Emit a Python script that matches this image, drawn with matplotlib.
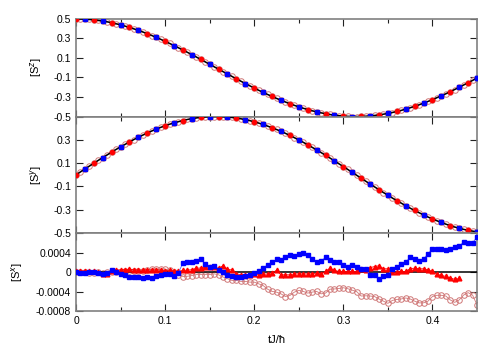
import numpy as np
import matplotlib
matplotlib.use('Agg')
import matplotlib.pyplot as plt

plt.rcParams['font.family'] = ['Liberation Sans', 'DejaVu Sans']
plt.rcParams['axes.unicode_minus'] = False

# time grid step used in the simulation
dt = 0.005

# <S^z> and <S^y> (every 0.005 in tJ/hbar)
sz = [0.500, 0.499, 0.498, 0.494, 0.490, 0.484, 0.478, 0.470, 0.461, 0.450,
      0.439, 0.426, 0.413, 0.398, 0.382, 0.366, 0.348, 0.330, 0.311, 0.291,
      0.270, 0.249, 0.227, 0.204, 0.181, 0.158, 0.134, 0.110, 0.085, 0.060,
      0.035, 0.010, -0.015, -0.040, -0.064, -0.089, -0.114, -0.138, -0.162, -0.185,
      -0.208, -0.231, -0.252, -0.274, -0.294, -0.314, -0.333, -0.351, -0.369, -0.385,
      -0.401, -0.415, -0.428, -0.441, -0.452, -0.462, -0.471, -0.479, -0.486, -0.491,
      -0.495, -0.498, -0.500, -0.500, -0.499, -0.497, -0.494, -0.489, -0.483, -0.476,
      -0.468, -0.459, -0.448, -0.437, -0.424, -0.410, -0.396, -0.380, -0.363, -0.345,
      -0.327, -0.307, -0.287, -0.267, -0.245, -0.223, -0.200, -0.177, -0.154, -0.130,
      -0.105]
sy = [0.000, 0.025, 0.050, 0.075, 0.099, 0.124, 0.148, 0.171, 0.195, 0.218,
      0.240, 0.261, 0.282, 0.303, 0.322, 0.341, 0.359, 0.376, 0.392, 0.407,
      0.421, 0.434, 0.446, 0.456, 0.466, 0.475, 0.482, 0.488, 0.493, 0.496,
      0.499, 0.500, 0.500, 0.498, 0.496, 0.492, 0.487, 0.481, 0.473, 0.465,
      0.455, 0.444, 0.432, 0.418, 0.404, 0.389, 0.373, 0.356, 0.338, 0.319,
      0.299, 0.279, 0.258, 0.236, 0.214, 0.191, 0.168, 0.144, 0.120, 0.095,
      0.071, 0.046, 0.021, -0.004, -0.029, -0.054, -0.079, -0.103, -0.128, -0.152,
      -0.175, -0.199, -0.221, -0.243, -0.265, -0.286, -0.306, -0.325, -0.344, -0.362,
      -0.378, -0.394, -0.409, -0.423, -0.436, -0.448, -0.458, -0.468, -0.476, -0.483,
      -0.489]

# <S^x> deviations, units of 1e-4
sx_blue = [0.0, -0.1, -0.25, 0.05, 0.05, -0.25, -0.4, -0.1, 0.4, 0.05,
           -0.3, -0.6, -0.95, -1.1, -0.95, -1.3, -0.95, -1.3, -0.75, -0.5,
           -0.3, -0.4, -0.75, -0.1, 1.9, 2.1, 2.1, 2.25, 2.65, 1.6,
           1.1, 1.3, 0.4, 0.07, -0.5, -0.75, -0.95, -0.95, -0.75, -0.6,
           -0.27, 0.2, 0.9, 1.45, 2.0, 2.6, 2.5, 3.05, 3.5, 3.4,
           3.75, 4.0, 3.5, 2.75, 2.1, 2.3, 3.0, 2.4, 2.1, 2.05,
           1.4, 1.15, 1.5, 1.15, 0.7, 0.55, -0.5, -0.5, -1.35, -0.8,
           -0.5, 0.55, 1.15, 1.6, 2.05, 3.05, 2.7, 2.25, 2.7, 3.75,
           4.8, 4.8, 4.8, 4.45, 4.8, 5.25, 5.35, 6.15, 6.0, 6.0,
           7.2]
sx_red = [0.2, 0.27, 0.27, 0.27, 0.2, 0.0, -0.45, -0.4, 0.2, 0.4,
          0.5, 0.5, 0.6, 0.5, 0.4, 0.4, 0.5, 0.4, 0.5, 0.4,
          0.27, 0.4, 0.2, 0.2, 0.34, 0.4, 0.5, 0.8, 0.85, 1.0,
          1.0, 1.0, 0.8, 1.3, 0.55, 0.45, -0.3, -0.55, -0.55, -0.55,
          -0.35, -0.5, -0.45, -0.35, -0.15, 0.35, -0.55, -0.55, -0.55, -0.35,
          -0.35, -0.35, -0.35, -0.35, -0.2, -0.35, 0.15, 0.8, 0.35, 0.15,
          0.15, 0.15, 0.15, 0.15, 0.7, 0.5, 0.9, 1.15, 1.3, 0.7,
          0.68, 0.0, 0.0, 0.14, 0.14, 0.7, 0.82, 0.68, 0.68, 0.48,
          0.14, -0.48, -0.68, -0.89, -1.16, -1.5, -1.3]
sx_open = [0.0, 0.0, -0.07, -0.14, -0.27, -0.07, -0.27, 0.07, 0.07, -0.07,
           0.07, 0.2, 0.27, 0.27, 0.27, 0.27, 0.41, 0.61, 0.61, 0.61,
           0.61, 0.41, -0.07, -0.5, -0.9, -0.85, -0.7, -0.5, -0.5, -0.5,
           -0.5, -0.35, -0.55, -1.0, -1.35, -1.7, -1.7, -1.9, -1.9, -2.05,
           -2.05, -2.4, -2.75, -3.5, -3.95, -4.1, -4.45, -5.0, -4.8, -4.1,
           -3.75, -3.95, -4.3, -4.1, -3.95, -4.45, -4.3, -3.5, -3.45, -3.35,
           -3.2, -3.4, -3.7, -4.0, -4.9, -4.85, -4.9, -5.0, -5.5, -5.95,
           -6.4, -5.8, -5.6, -5.5, -5.3, -5.5, -5.95, -6.3, -6.3, -5.95,
           -5.0, -4.75, -4.75, -4.9, -5.7, -6.2, -5.7, -4.7, -4.2, -4.7,
           -6.7]

xticks = [0, 0.1, 0.2, 0.3, 0.4]
spin_ticks = [-0.5, -0.3, -0.1, 0.1, 0.3, 0.5]
sx_ticks = [-0.0008, -0.0004, 0, 0.0004, 0.0008]

blue = '#0000ff'
red = '#ff0000'
pink = '#d07878'
frame = '#808080'

t = np.arange(len(sz)) * dt
sz = np.array(sz)
sy = np.array(sy)

fig = plt.figure(figsize=(5, 3.5), dpi=100)
left, width = 0.152, 0.802
ax1 = fig.add_axes([left, 0.667, width, 0.279])
ax2 = fig.add_axes([left, 0.334, width, 0.333])
ax3 = fig.add_axes([left, 0.111, width, 0.223])


def style(ax):
    ax.set_xlim(0, 0.45)
    ax.set_xticks(xticks)
    ax.set_xticks(np.arange(0.05, 0.45, 0.1), minor=True)
    ax.tick_params(which='both', direction='in', top=True, right=True,
                   labelsize=7.5, width=0.8, color='#222222')
    ax.tick_params(which='major', length=5)
    ax.tick_params(which='minor', length=3)
    for s in ax.spines.values():
        s.set_color(frame)
        s.set_linewidth(1.2)


def spin_panel(ax, y, label, hide_top):
    # blue at odd hundredths, red at even hundredths, open circles every step
    ib = list(range(2, len(y), 4)) + [len(y) - 1]
    ir = list(range(0, len(y), 4))
    ax.plot(t, y, '-', color=pink, lw=0.6, marker='o', ms=4.0, mfc='none',
            mec=pink, mew=0.7, zorder=2)
    ax.plot(t, y, '-', color='black', lw=1.1, zorder=3)
    ax.plot(t[ib], y[ib], 's', color=blue, ms=2.9, zorder=4)
    ax.plot(t[ir], y[ir], 'o', color=red, ms=3.0, zorder=4)
    ax.set_ylim(-0.5, 0.5)
    ax.set_yticks(spin_ticks)
    labels = ['%g' % v for v in spin_ticks]
    if hide_top:
        labels[-1] = ''
    ax.set_yticklabels(labels)
    style(ax)
    ax.set_xticklabels([])
    ax.set_ylabel(label, fontsize=8)
    ax.yaxis.set_label_coords(-0.08, 0.5)


spin_panel(ax1, sz, r'[S$^z$]', False)
spin_panel(ax2, sy, r'[S$^y$]', True)

# bottom panel: S^x
tb = np.arange(len(sx_blue)) * dt
tr = np.arange(len(sx_red)) * dt
to = np.arange(len(sx_open)) * dt
ax3.axhline(0, color='black', lw=1.1, zorder=3)
ax3.plot(to, np.array(sx_open) * 1e-4, '-', color=pink, lw=0.6, marker='o',
         ms=4.0, mfc='none', mec=pink, mew=0.7, zorder=2)
ax3.plot(tr, np.array(sx_red) * 1e-4, '-', color=red, lw=0.6, marker='^',
         ms=3.4, zorder=4)
ax3.plot(tb, np.array(sx_blue) * 1e-4, '-', color='#5060ff', lw=0.6,
         marker='s', ms=2.9, mfc=blue, mec=blue, zorder=5)
ax3.set_ylim(-0.0008, 0.0008)
ax3.set_yticks(sx_ticks)
ax3.set_yticklabels(['-0.0008', '-0.0004', '0', '0.0004', ''])
style(ax3)
ax3.set_xticklabels(['%g' % v for v in xticks])
ax3.set_ylabel(r'[S$^x$]', fontsize=8)
ax3.yaxis.set_label_coords(-0.127, 0.5)
ax3.set_xlabel('tJ/ħ', fontsize=8)
ax3.xaxis.set_label_coords(0.5, -0.3)

fig.savefig('out.png', dpi=100)
